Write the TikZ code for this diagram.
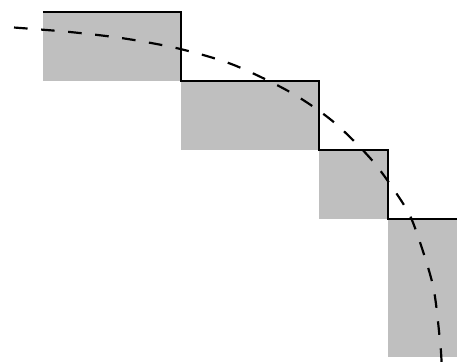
\documentclass[tikz,border=0pt]{standalone}
\usepackage{tikz}

\begin{document}
\begin{tikzpicture}[line width=0.9pt,
  cell/.style={fill=black!25, draw=none},
  stair/.style={draw=black, line width=0.9pt},
  curve/.style={draw=black, dash pattern=on 5.6pt off 5.6pt}]
  \clip (-0.623,-0.087) rectangle (6,5.174);
  % shaded cells under the curve
  \foreach \xa/\ya/\xb/\yb in {0/4/2/5, 2/3/4/4, 4/2/5/3, 5/0/6/2}
    \path [cell] (\xa,\ya) rectangle (\xb,\yb);
  % upper staircase
  \path [stair] (0,5) -- (2,5) -- (2,4) -- (4,4) -- (4,3) -- (5,3) -- (5,2) -- (6,2);
  % dashed curve
  \path [curve] plot [smooth] coordinates {(-0.42,4.775) (0.391,4.71) (1.188,4.615)
    (1.986,4.465) (2.758,4.235) (3.58,3.84) (4.207,3.41) (4.787,2.83) (5.246,2.18)
    (5.42,1.79) (5.655,1.02) (5.752,0.25) (5.775,-0.043) (5.78,-0.2)};
\end{tikzpicture}
\end{document}
